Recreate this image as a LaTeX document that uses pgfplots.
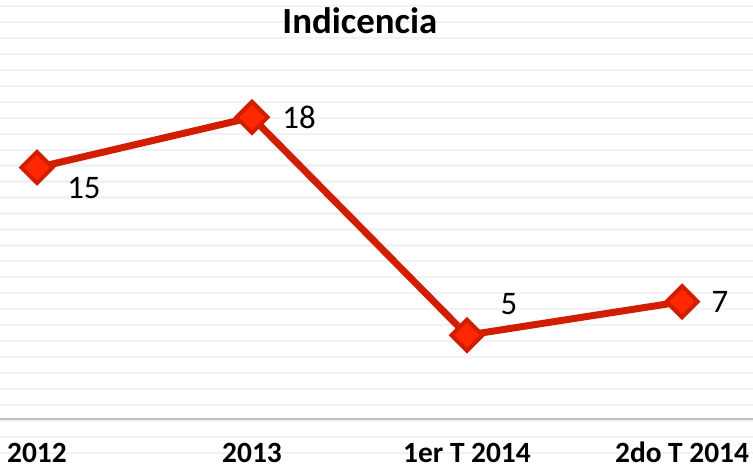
\documentclass[border=0pt]{standalone}
\usepackage{pgfplots}
\pgfplotsset{compat=1.18}
\usepackage{pgfplotstable}
\usepackage{fontspec}
\setmainfont{Carlito}
\definecolor{linered}{RGB}{210,30,0}
\definecolor{markred}{RGB}{255,40,0}
\definecolor{stripe}{RGB}{242,242,242}

% x  y  label shift (bp)
\pgfplotstableread{
x y dx dy
0 15 47 -20
1 18 47 0
2 5 42 31
3 7 38 0
}\incidencia

\begin{document}
\begin{tikzpicture}
\begin{axis}[
  name=ax,
  set layers=standard,
  scale only axis, width=753bp, height=419bp,
  xmin=-0.172, xmax=3.33, ymin=0, ymax=25,
  axis x line*=bottom, axis y line=none,
  x axis line style={draw=black!25, line width=1.5bp, -},
  xtick={0,1,2,3},
  xticklabels={2012,2013,1er T 2014,2do T 2014},
  xticklabel style={font=\fontsize{29.5}{31}\selectfont\bfseries, anchor=base,
    inner sep=0pt, yshift=-43bp},
  major tick length=0pt,
  ytick=\empty,
  clip=false,
  title={Indicencia},
  title style={font=\fontsize{37}{40}\selectfont\bfseries,
    at={(axis description cs:0.478,0.936)}, anchor=center},
]
% background stripes (page rows 6 + 15.96 i from the top)
\begin{pgfonlayer}{axis background}
\pgfplotsinvokeforeach{0,...,28}{
  \draw[stripe, line width=2.2bp]
    (axis description cs:0,{(413-15.96*#1)/419}) -- (axis description cs:1,{(413-15.96*#1)/419});
}
\end{pgfonlayer}
\addplot[linered, line width=7bp, mark=square*, mark size=11bp,
  mark options={draw=linered, fill=markred, line width=4bp, rotate=45},
  visualization depends on={\thisrow{dx}\as\dx},
  visualization depends on={\thisrow{dy}\as\dy},
  nodes near coords,
  nodes near coords style={font=\fontsize{33}{35}\selectfont, text=black,
    anchor=center, xshift=\dx bp, yshift=\dy bp},
  point meta=explicit symbolic]
  table[x=x, y=y, meta=y] {\incidencia};
\end{axis}
\pgfresetboundingbox
\useasboundingbox ([yshift=-47bp]ax.south west) rectangle (ax.north east);
\end{tikzpicture}
\end{document}
